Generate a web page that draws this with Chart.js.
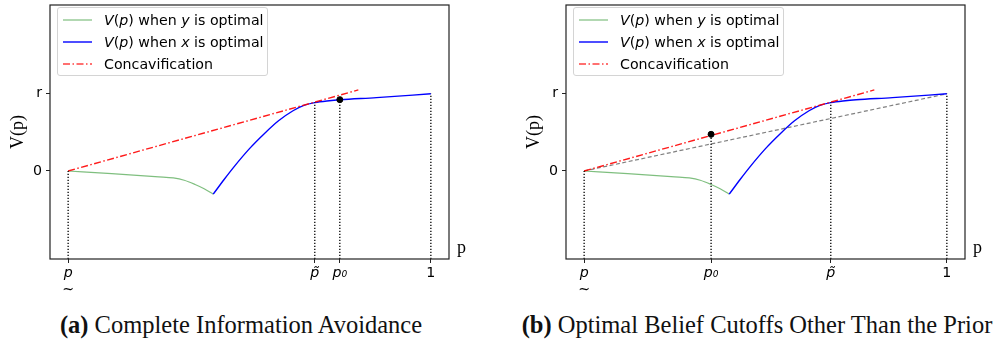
<!DOCTYPE html>
<html>
<head>
<meta charset="utf-8">
<script src="https://cdn.jsdelivr.net/npm/chart.js@4"></script>
<style>
body{margin:0;background:#fff;width:1000px;height:346px;position:relative;overflow:hidden;font-family:'DejaVu Sans';}
canvas{position:absolute;top:0;}
.legend{position:absolute;top:7px;width:209px;height:67px;border:1px solid #d4d4d4;border-radius:3px;background:rgba(255,255,255,0.85);font-size:14.2px;color:#000;}
.row{position:absolute;left:0;width:100%;height:22px;line-height:22px;white-space:nowrap;}
.row svg{position:absolute;left:5px;top:9px;}
.row span{position:absolute;left:46px;top:0;}
.cap{position:absolute;top:313px;font-family:'Liberation Serif';font-size:24.5px;line-height:1;white-space:nowrap;transform:translateX(-50%);color:#111;}
</style>
</head>
<body>
<canvas id="chartA" width="484" height="300" style="left:0"></canvas>
<canvas id="chartB" width="484" height="300" style="left:516px"></canvas>

<div class="legend" style="left:57px">
  <div class="row" style="top:1px"><svg width="29" height="4"><line x1="0" y1="2" x2="29" y2="2" stroke="rgba(0,128,0,0.5)" stroke-width="1.2"/></svg><span><i>V</i>(<i>p</i>) when <i>y</i> is optimal</span></div>
  <div class="row" style="top:23px"><svg width="29" height="4"><line x1="0" y1="2" x2="29" y2="2" stroke="#0000ff" stroke-width="1.4"/></svg><span><i>V</i>(<i>p</i>) when <i>x</i> is optimal</span></div>
  <div class="row" style="top:45px"><svg width="29" height="4"><line x1="0" y1="2" x2="29" y2="2" stroke="rgba(255,0,0,0.75)" stroke-width="1.4" stroke-dasharray="7 2.5 1.5 2.5"/></svg><span>Concavification</span></div>
</div>
<div class="legend" style="left:573px">
  <div class="row" style="top:1px"><svg width="29" height="4"><line x1="0" y1="2" x2="29" y2="2" stroke="rgba(0,128,0,0.5)" stroke-width="1.2"/></svg><span><i>V</i>(<i>p</i>) when <i>y</i> is optimal</span></div>
  <div class="row" style="top:23px"><svg width="29" height="4"><line x1="0" y1="2" x2="29" y2="2" stroke="#0000ff" stroke-width="1.4"/></svg><span><i>V</i>(<i>p</i>) when <i>x</i> is optimal</span></div>
  <div class="row" style="top:45px"><svg width="29" height="4"><line x1="0" y1="2" x2="29" y2="2" stroke="rgba(255,0,0,0.75)" stroke-width="1.4" stroke-dasharray="7 2.5 1.5 2.5"/></svg><span>Concavification</span></div>
</div>

<div class="cap" style="left:241px"><b>(a)</b> Complete Information Avoidance</div>
<div class="cap" style="left:757px"><b>(b)</b> Optimal Belief Cutoffs Other Than the Prior</div>

<script>
// axis limits (p runs from p_ = 0 to 1, r = 1)
const xMin = -0.05, xMax = 1.05, yMin = -1.14, yMax = 2.15;

// V(p) when y is optimal
const greenX = [0, 0.12, 0.25, 0.29, 0.32, 0.35, 0.375, 0.40];
const greenY = [0, -0.035, -0.075, -0.09, -0.12, -0.175, -0.23, -0.30];

// V(p) when x is optimal
const blueX = [0.40, 0.43, 0.46, 0.50, 0.54, 0.58, 0.62, 0.65, 0.68, 0.72, 0.75, 0.85, 1.0];
const blueY = [-0.30, -0.11, 0.07, 0.29, 0.48, 0.65, 0.78, 0.85, 0.886, 0.91, 0.922, 0.95, 1.0];

// concavification line
const hullX = [0, 0.8];
const hullY = [0, 1.05];

// grey chord in panel (b)
const chordX = [0, 1];
const chordY = [0, 1];

// panel (a)
const ticksA = [0, 0.68, 0.749, 1];
const tickLabelsA = [['p', '~'], 'p\u0303', 'p\u2080', '1'];
const dropTopsA = [0, 0.886, 0.924, 1];
const dotA = [0.749, 0.924];

// panel (b)
const ticksB = [0, 0.35, 0.68, 1];
const tickLabelsB = [['p', '~'], 'p\u2080', 'p\u0303', '1'];
const dropTopsB = [0, 0.47, 0.886, 1];
const dotB = [0.35, 0.475];

const yTicks = [0, 1];
const yTickLabels = ['0', 'r'];

function pts(xs, ys) {
    return xs.map((x, i) => ({x: x, y: ys[i]}));
}

const framePlugin = {
    id: 'frame',
    afterDatasetsDraw(chart) {
        const {ctx, chartArea: a} = chart;
        ctx.save();
        ctx.strokeStyle = '#222';
        ctx.lineWidth = 1.2;
        ctx.strokeRect(a.left, a.top, a.right - a.left, a.bottom - a.top);
        ctx.fillStyle = '#000';
        ctx.font = '18px "Liberation Serif"';
        ctx.textBaseline = 'alphabetic';
        ctx.fillText('p', a.right + 8, a.bottom - 6);
        ctx.restore();
    }
};

function makeChart(id, xTicks, xLabels, dropTops, dot, withChord) {
    const datasets = [];
    // marker on top
    datasets.push({data: [{x: dot[0], y: dot[1]}], pointRadius: 3, pointBackgroundColor: '#000',
        pointBorderColor: '#000', showLine: false});
    // dotted drop lines
    xTicks.forEach((v, i) => {
        datasets.push({data: [{x: v, y: yMin}, {x: v, y: dropTops[i]}], showLine: true, pointRadius: 0,
            borderColor: '#000', borderWidth: 1.3, borderDash: [1.2, 1.8]});
    });
    datasets.push({data: pts(hullX, hullY), showLine: true, pointRadius: 0,
        borderColor: 'rgba(255,0,0,0.9)', borderWidth: 1.4, borderDash: [7, 2.5, 1.5, 2.5]});
    datasets.push({data: pts(blueX, blueY), showLine: true, pointRadius: 0,
        borderColor: '#0000ff', borderWidth: 1.4, cubicInterpolationMode: 'monotone'});
    datasets.push({data: pts(greenX, greenY), showLine: true, pointRadius: 0,
        borderColor: 'rgba(0,128,0,0.5)', borderWidth: 1.2, cubicInterpolationMode: 'monotone'});
    if (withChord) {
        datasets.push({data: pts(chordX, chordY), showLine: true, pointRadius: 0,
            borderColor: '#808080', borderWidth: 1.2, borderDash: [4, 2.5]});
    }

    return new Chart(document.getElementById(id), {
        type: 'scatter',
        data: {datasets: datasets},
        plugins: [framePlugin],
        options: {
            responsive: false,
            animation: false,
            devicePixelRatio: 1,
            layout: {padding: {left: 0, right: 35, top: -1, bottom: 0}},
            plugins: {legend: {display: false}, tooltip: {enabled: false}},
            scales: {
                x: {
                    type: 'linear', min: xMin, max: xMax,
                    afterBuildTicks: s => { s.ticks = xTicks.map(v => ({value: v})); },
                    afterFit: s => { s.height = 41; s.paddingLeft = 0; s.paddingRight = 0; },
                    border: {display: false},
                    grid: {drawOnChartArea: false, drawTicks: true, tickLength: 4, color: '#222', lineWidth: 1},
                    ticks: {
                        padding: 2,
                        color: '#000',
                        maxRotation: 0,
                        autoSkip: false,
                        callback: (v, i) => xLabels[i],
                        font: c => ({family: 'DejaVu Sans', size: 14.2, lineHeight: 1.2,
                            style: (c.index !== undefined && xLabels[c.index] !== '1') ? 'italic' : 'normal'})
                    }
                },
                y: {
                    type: 'linear', min: yMin, max: yMax,
                    afterBuildTicks: s => { s.ticks = yTicks.map(v => ({value: v})); },
                    afterFit: s => { s.width = 50; s.paddingTop = 0; s.paddingBottom = 0; },
                    border: {display: false},
                    grid: {drawOnChartArea: false, drawTicks: true, tickLength: 4, color: '#222', lineWidth: 1},
                    ticks: {
                        padding: 4,
                        color: '#000',
                        callback: (v, i) => yTickLabels[i],
                        font: {family: 'DejaVu Sans', size: 14.2}
                    },
                    title: {
                        display: true, text: 'V(p)', color: '#000',
                        font: {family: 'Liberation Serif', size: 18},
                        padding: {top: 7, bottom: 0}
                    }
                }
            }
        }
    });
}

makeChart('chartA', ticksA, tickLabelsA, dropTopsA, dotA, false);
makeChart('chartB', ticksB, tickLabelsB, dropTopsB, dotB, true);
</script>
</body>
</html>
